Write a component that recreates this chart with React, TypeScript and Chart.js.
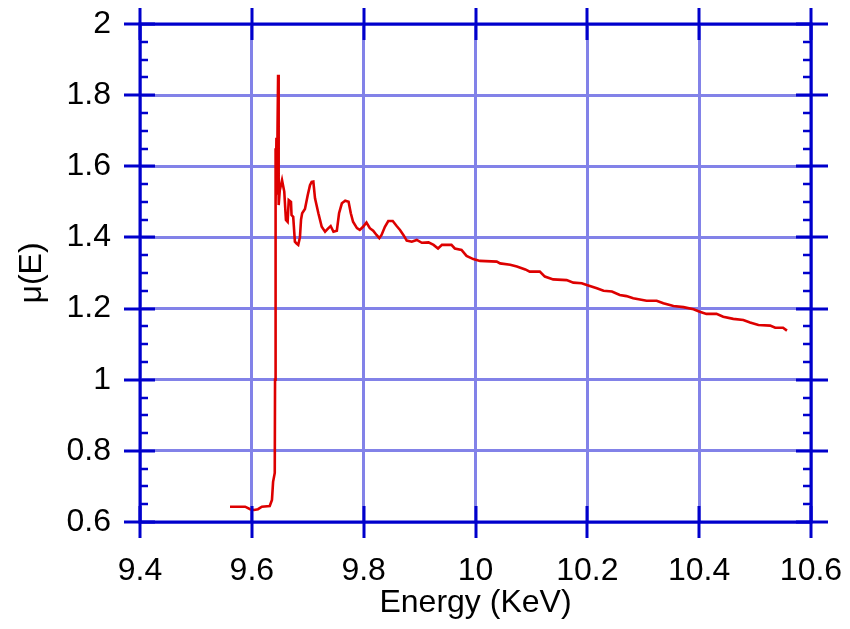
import React, { useEffect, useRef } from 'react';
import { Chart, registerables } from 'chart.js';

Chart.register(...registerables);

const energy = [
  9.561, 9.588, 9.597, 9.604, 9.611, 9.618, 9.632, 9.636, 9.638, 9.641,
  9.6415, 9.642, 9.643, 9.644, 9.645, 9.646, 9.647, 9.648, 9.65, 9.654,
  9.658, 9.661, 9.664, 9.666, 9.67, 9.671, 9.674, 9.677, 9.68, 9.683,
  9.686, 9.688, 9.69, 9.695, 9.7, 9.704, 9.707, 9.71, 9.713, 9.719,
  9.725, 9.731, 9.737, 9.741, 9.746, 9.752, 9.756, 9.761, 9.767, 9.773,
  9.777, 9.781, 9.788, 9.793, 9.799, 9.805, 9.811, 9.817, 9.823, 9.828,
  9.832, 9.838, 9.844, 9.852, 9.859, 9.865, 9.871, 9.877, 9.886, 9.895,
  9.904, 9.916, 9.925, 9.933, 9.94, 9.957, 9.963, 9.975, 9.984, 9.996,
  10.008, 10.038, 10.044, 10.062, 10.074, 10.089, 10.097, 10.115, 10.124, 10.139,
  10.163, 10.175, 10.19, 10.199, 10.217, 10.229, 10.244, 10.258, 10.27, 10.282,
  10.306, 10.324, 10.336, 10.354, 10.372, 10.39, 10.401, 10.413, 10.431, 10.443,
  10.461, 10.479, 10.491, 10.506, 10.527, 10.536, 10.55, 10.557,
];

const mu = [
  0.643, 0.643, 0.636, 0.634, 0.636, 0.643, 0.645, 0.662, 0.713, 0.738,
  1.0, 1.651, 1.5, 1.68, 1.52, 1.711, 1.857, 1.491, 1.533, 1.561,
  1.529, 1.449, 1.444, 1.505, 1.5, 1.463, 1.458, 1.388, 1.383, 1.379,
  1.4, 1.45, 1.468, 1.48, 1.519, 1.547, 1.556, 1.557, 1.51, 1.468,
  1.43, 1.416, 1.426, 1.432, 1.416, 1.419, 1.468, 1.496, 1.503, 1.5,
  1.468, 1.444, 1.426, 1.421, 1.43, 1.442, 1.426, 1.419, 1.407, 1.398,
  1.407, 1.43, 1.446, 1.446, 1.432, 1.421, 1.407, 1.391, 1.388, 1.393,
  1.385, 1.386, 1.379, 1.369, 1.379, 1.379, 1.369, 1.365, 1.348, 1.339,
  1.334, 1.332, 1.327, 1.323, 1.318, 1.31, 1.304, 1.304, 1.29, 1.282,
  1.28, 1.273, 1.271, 1.266, 1.257, 1.25, 1.248, 1.238, 1.235, 1.229,
  1.222, 1.222, 1.215, 1.207, 1.204, 1.198, 1.191, 1.185, 1.185, 1.177,
  1.171, 1.168, 1.161, 1.154, 1.152, 1.146, 1.146, 1.138,
];

const xTicks = [9.4, 9.6, 9.8, 10, 10.2, 10.4, 10.6];
const yTicks = [0.6, 0.8, 1, 1.2, 1.4, 1.6, 1.8, 2];
const yMinorTicks = [
  0.65, 0.7, 0.75, 0.85, 0.9, 0.95, 1.05, 1.1, 1.15, 1.25, 1.3, 1.35,
  1.45, 1.5, 1.55, 1.65, 1.7, 1.75, 1.85, 1.9, 1.95,
];

const xTitle = 'Energy (KeV)';
const yTitle = 'μ(E)';

const FONT = "'Liberation Sans', Arial, sans-serif";
const AXIS_BLUE = '#0000cc';
const GRID_BLUE = 'rgb(130,130,232)';

const framePlugin = {
  id: 'frame',
  afterDatasetsDraw(chart: any) {
    const { ctx, chartArea, scales } = chart;
    const { left, right, top, bottom } = chartArea;
    const x = scales.x;
    const y = scales.y;
    ctx.save();
    ctx.strokeStyle = AXIS_BLUE;
    ctx.lineWidth = 3;
    ctx.beginPath();
    ctx.rect(left, top, right - left, bottom - top);
    ctx.stroke();
    ctx.beginPath();
    for (const v of xTicks) {
      const px = Math.round(x.getPixelForValue(v));
      ctx.moveTo(px, bottom - 16);
      ctx.lineTo(px, bottom + 16);
      ctx.moveTo(px, top - 16);
      ctx.lineTo(px, top + 16);
    }
    for (const v of yTicks) {
      const py = Math.round(y.getPixelForValue(v));
      ctx.moveTo(left - 16, py);
      ctx.lineTo(left + 15, py);
      ctx.moveTo(right - 15, py);
      ctx.lineTo(right + 17, py);
    }
    ctx.stroke();
    ctx.lineWidth = 2.5;
    ctx.beginPath();
    for (const v of yMinorTicks) {
      const py = Math.round(y.getPixelForValue(v));
      ctx.moveTo(left, py);
      ctx.lineTo(left + 8, py);
      ctx.moveTo(right - 8, py);
      ctx.lineTo(right, py);
    }
    ctx.stroke();
    ctx.restore();
  },
};

export default function App() {
  const canvasRef = useRef<HTMLCanvasElement | null>(null);

  useEffect(() => {
    const canvas = canvasRef.current;
    if (!canvas) return;
    const points = energy.map((e, i) => ({ x: e, y: mu[i] }));
    const chart = new Chart(canvas, {
      type: 'line',
      data: {
        datasets: [
          {
            data: points,
            borderColor: '#dd0000',
            borderWidth: 2.6,
            pointRadius: 0,
            tension: 0,
            fill: false,
          },
        ],
      },
      options: {
        responsive: false,
        animation: false,
        parsing: false as any,
        layout: { padding: { top: 24, right: 39, left: 0, bottom: 0 } },
        plugins: {
          legend: { display: false },
          tooltip: { enabled: false },
        },
        scales: {
          x: {
            type: 'linear',
            position: 'bottom',
            min: 9.4,
            max: 10.6,
            afterBuildTicks: (s: any) => {
              s.ticks = xTicks.map((v) => ({ value: v }));
            },
            afterFit: (s: any) => {
              s.height = 107;
              s.paddingLeft = 0;
              s.paddingRight = 0;
              s.paddingTop = 0;
              s.paddingBottom = 0;
            },
            grid: { color: GRID_BLUE, lineWidth: 3, drawTicks: false },
            border: { display: false },
            ticks: {
              padding: 30,
              color: '#000',
              font: { family: FONT, size: 32 },
              callback: (v: any) => String(Math.round(Number(v) * 10) / 10),
            },
            title: {
              display: true,
              text: xTitle,
              color: '#000',
              font: { family: FONT, size: 32 },
              padding: { top: 0, bottom: 7 },
            },
          },
          y: {
            type: 'linear',
            position: 'left',
            min: 0.6,
            max: 2,
            afterBuildTicks: (s: any) => {
              s.ticks = yTicks.map((v) => ({ value: v }));
            },
            afterFit: (s: any) => {
              s.width = 140;
              s.paddingLeft = 0;
              s.paddingRight = 0;
              s.paddingTop = 0;
              s.paddingBottom = 0;
            },
            grid: { color: GRID_BLUE, lineWidth: 3, drawTicks: false },
            border: { display: false },
            ticks: {
              padding: 29,
              color: '#000',
              font: { family: FONT, size: 32 },
              callback: (v: any) => String(Math.round(Number(v) * 10) / 10),
            },
            title: {
              display: true,
              text: yTitle,
              color: '#000',
              font: { family: FONT, size: 32 },
              padding: { top: 13, bottom: 0 },
            },
          },
        },
      },
      plugins: [framePlugin],
    });
    return () => chart.destroy();
  }, []);

  return (
    <div style={{ position: 'fixed', left: 0, top: 0, width: 850, height: 629, background: '#fff' }}>
      <canvas ref={canvasRef} width={850} height={629} style={{ display: 'block' }} />
    </div>
  );
}
